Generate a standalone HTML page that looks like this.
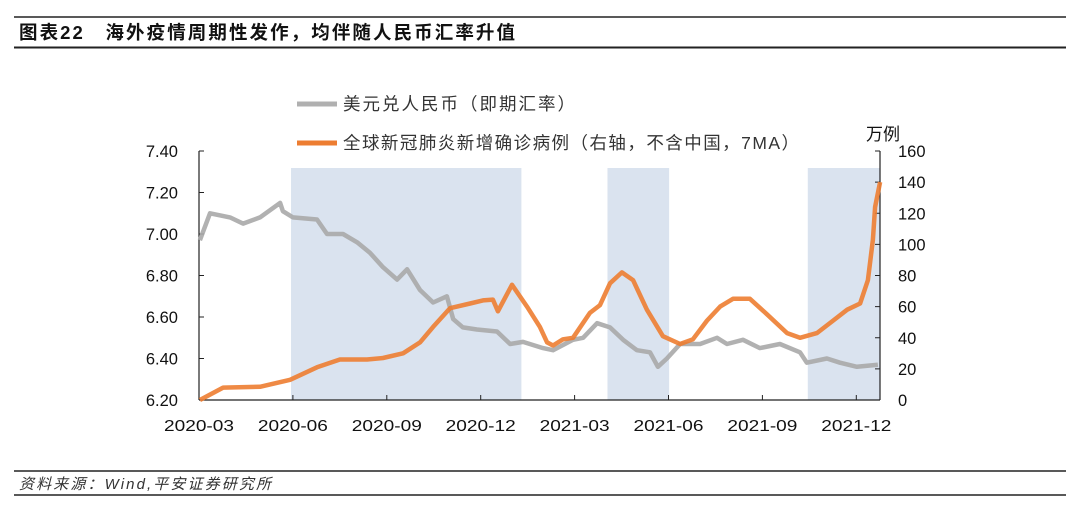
<!DOCTYPE html>
<html><head><meta charset="utf-8">
<style>
body{margin:0;background:#fff;}
svg text{font-family:"Liberation Sans","Noto Sans CJK SC",sans-serif;}
</style></head>
<body>
<svg id="chart" width="1080" height="512" viewBox="0 0 1080 512" xmlns="http://www.w3.org/2000/svg">
<line x1="14" y1="17" x2="1066" y2="17" stroke="#222" stroke-width="1.5"/>
<line x1="14" y1="47.5" x2="1066" y2="47.5" stroke="#222" stroke-width="2"/>
<text x="19" y="39" font-size="18.5" font-weight="bold" fill="#111" textLength="496" lengthAdjust="spacing">图表22　海外疫情周期性发作，均伴随人民币汇率升值</text>
<g id="shades"></g>
<g id="grid"></g>
<g id="series"></g>
<line x1="297" y1="104" x2="337" y2="104" stroke="#b0b0b0" stroke-width="5"/>
<text x="343" y="110" font-size="17.5" fill="#333" textLength="232" lengthAdjust="spacing">美元兑人民币（即期汇率）</text>
<line x1="297" y1="143" x2="337" y2="143" stroke="#ed7d31" stroke-width="5"/>
<text x="343" y="149" font-size="17.5" fill="#333" textLength="456" lengthAdjust="spacing">全球新冠肺炎新增确诊病例（右轴，不含中国，7MA）</text>
<text x="866" y="140" font-size="17" fill="#111">万例</text>
<line x1="14" y1="471" x2="1066" y2="471" stroke="#222" stroke-width="1.5"/>
<line x1="14" y1="495" x2="1066" y2="495" stroke="#222" stroke-width="1.5"/>
<text x="19" y="489" font-size="15" font-style="italic" fill="#333" textLength="252" lengthAdjust="spacing">资料来源：Wind,平安证券研究所</text>
</svg>
<script>
// months since 2020-03-01
const xTickLabels = ["2020-03","2020-06","2020-09","2020-12","2021-03","2021-06","2021-09","2021-12"];
const xTickMonths = [0,3,6,9,12,15,18,21];
const leftTicks = [6.20,6.40,6.60,6.80,7.00,7.20,7.40];
const rightTicks = [0,20,40,60,80,100,120,140,160];
const shadeStarts = [2.94,13.05,19.45];
const shadeEnds = [10.3,15.02,21.75];
const cnyMonths = [0.03,0.35,0.99,1.41,1.95,2.59,2.68,3.0,3.77,4.09,4.60,5.05,5.46,5.88,6.33,6.65,7.06,7.48,7.92,8.12,8.43,8.88,9.52,9.94,10.35,10.99,11.31,11.95,12.27,12.72,13.13,13.55,13.99,14.41,14.66,14.95,15.37,16.01,16.55,16.87,17.38,17.92,18.56,19.20,19.42,20.06,20.48,21.02,21.69];
const cnyValues = [6.97,7.10,7.08,7.05,7.08,7.15,7.11,7.08,7.07,7.00,7.00,6.96,6.91,6.84,6.78,6.83,6.73,6.67,6.70,6.59,6.55,6.54,6.53,6.47,6.48,6.45,6.44,6.49,6.50,6.57,6.55,6.49,6.44,6.43,6.36,6.40,6.47,6.47,6.50,6.47,6.49,6.45,6.47,6.43,6.38,6.40,6.38,6.36,6.37];
const covidMonths = [0.03,0.77,1.95,2.91,3.77,4.50,5.37,5.88,6.52,7.06,7.48,8.02,8.66,9.07,9.39,9.55,10.0,10.48,10.89,11.12,11.31,11.63,11.95,12.49,12.81,13.13,13.51,13.87,14.31,14.82,15.37,15.78,16.23,16.65,17.06,17.60,18.15,18.79,19.20,19.74,20.26,20.71,21.12,21.37,21.53,21.60,21.76];
const covidValues = [0,8,8.5,13,21,26,26,27,30,37,47,59,62,64,64.5,57,74,60,47,37,35,39,40,56,61,75,82,77,58,41,36,39,51,60,65,65,55,43,40,43,51,58,62,77,103,124,140];

const X0=199, MW=31.3, YB=400, YT=151, RX=880;
function xS(m){return X0+m*MW;}
function yL(v){return YB-(v-6.2)/1.2*(YB-YT);}
function yR(v){return YB-v/160*(YB-YT);}
const NS="http://www.w3.org/2000/svg";
function mk(tag,attrs,parent){const e=document.createElementNS(NS,tag);for(const k in attrs)e.setAttribute(k,attrs[k]);parent.appendChild(e);return e;}
const shades=document.getElementById('shades'), grid=document.getElementById('grid'), series=document.getElementById('series');
shadeStarts.forEach((s,i)=>{
  const r=mk('rect',{x:xS(s),y:168,width:xS(shadeEnds[i])-xS(s),height:YB-168,fill:'#dae3ef'},shades);
  
  
});
const la=mk('line',{x1:X0,y1:YT,x2:X0,y2:YB,stroke:'#222','stroke-width':1.2},grid);


const ra=mk('line',{x1:RX,y1:YT,x2:RX,y2:YB,stroke:'#222','stroke-width':1.2},grid);


const xa=mk('line',{x1:X0,y1:YB,x2:RX,y2:YB,stroke:'#222','stroke-width':1.2},grid);


leftTicks.forEach(v=>{
  const y=yL(v);
  mk('line',{x1:X0,y1:y,x2:X0+5,y2:y,stroke:'#222'},grid);
  const t=mk('text',{x:178,y:y+6,'font-size':16.5,'text-anchor':'end',fill:'#111'},grid);
  t.textContent=v.toFixed(2);
  
  
});
rightTicks.forEach(v=>{
  const y=yR(v);
  mk('line',{x1:RX-5,y1:y,x2:RX,y2:y,stroke:'#222'},grid);
  const t=mk('text',{x:898,y:y+6,'font-size':16.5,fill:'#111'},grid);
  t.textContent=v;
  
  
});
xTickMonths.forEach((m,i)=>{
  const x=xS(m);
  mk('line',{x1:x,y1:YB,x2:x,y2:YB-5,stroke:'#222'},grid);
  const t=mk('text',{x:x-35,y:431,'font-size':16,fill:'#111',textLength:70,lengthAdjust:'spacingAndGlyphs'},grid);
  t.textContent=xTickLabels[i];
  
  
});
function path(ms,vs,yf){return ms.map((m,i)=>(i?'L':'M')+xS(m).toFixed(1)+','+yf(vs[i]).toFixed(1)).join('');}
const g=mk('path',{d:path(cnyMonths,cnyValues,yL),fill:'none',stroke:'#a9a9a9','stroke-width':4.5,'stroke-linejoin':'round','opacity':0.9},series);


const o=mk('path',{d:path(covidMonths,covidValues,yR),fill:'none',stroke:'#ed7d31','stroke-width':4.5,'stroke-linejoin':'round','opacity':0.9},series);


</script>
</body></html>
